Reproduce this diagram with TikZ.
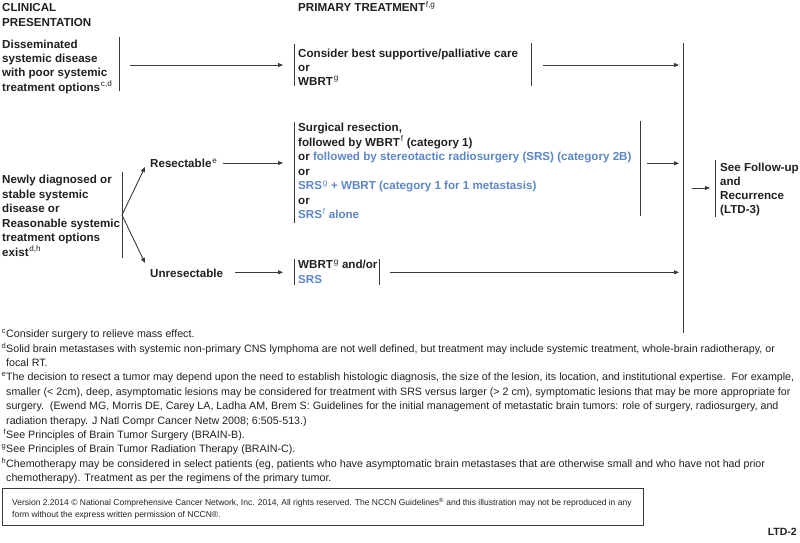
\documentclass[tikz,border=0pt]{standalone}
\usepackage{fontspec}
\setmainfont{Liberation Sans}
\usetikzlibrary{arrows.meta}
\definecolor{ink}{HTML}{231F20}
\definecolor{nccnblue}{HTML}{5B86C8}
\definecolor{rulec}{HTML}{3A3A3A}
\newcommand\myst{\rule{0pt}{11pt}}
\newcommand\fst{\rule{0pt}{11pt}}
\newcommand\sps[1]{\kern0.8pt\textsuperscript{\mdseries #1}}
\begin{document}
\begin{tikzpicture}[x=1pt,y=-1pt]
\tikzset{
  txt/.style={anchor=north west, inner sep=0pt, align=left, text=ink,
    font=\fontsize{11.6}{14.4}\selectfont\bfseries},
  fn/.style={anchor=north west, inner sep=0pt, align=left, text=ink,
    font=\fontsize{10.7}{14.4}\selectfont},
  barline/.style={draw=rulec, line width=0.9pt},
  arr/.style={draw=rulec, line width=0.9pt, -{Triangle[length=5pt,width=4pt]}},
}
\useasboundingbox (0,0) rectangle (800,542);

% headers
\node[txt] (hdrL) at (2,0.5) {\myst CLINICAL\\PRESENTATION};
\node[txt] (hdrR) at (298,0.5) {\myst PRIMARY TREATMENT\sps{f,g}};

% disseminated row
\node[txt, font=\fontsize{11.6}{14.2}\selectfont\bfseries] (dis) at (2,37.3) {\myst Disseminated\\systemic disease\\with poor systemic\\treatment options\sps{c,d}};
\coordinate (disT) at (119,37); \coordinate (disB) at (119,91);
\draw[barline] (disT) -- (disB);
\coordinate (disM) at (119,65);

\node[txt, font=\fontsize{11.6}{13.9}\selectfont\bfseries] (cons) at (298,46.3) {\myst Consider best supportive/palliative care\\or\\WBRT\sps{g}};
\coordinate (consLT) at (294,44); \coordinate (consLB) at (294,86);
\draw[barline] (consLT) -- (consLB);
\coordinate (consLM) at (294,65);
\coordinate (consRT) at (531,43); \coordinate (consRB) at (531,86);
\draw[barline] (consRT) -- (consRB);
\coordinate (consRM) at (531,65);

% big collecting line
\coordinate (bigT) at (683,43); \coordinate (bigB) at (683,333);
\draw[barline] (bigT) -- (bigB);
\coordinate (big1) at (683,65);
\coordinate (big2) at (683,163.3);
\coordinate (big3) at (683,272.3);
\coordinate (big4) at (683,188);

\draw[arr] ([xshift=11pt]disM) -- ([xshift=-11pt]consLM);
\draw[arr] ([xshift=12pt]consRM) -- ([xshift=-4pt]big1);

% newly diagnosed
\node[txt, font=\fontsize{11.6}{14.5}\selectfont\bfseries] (new) at (2,172.5) {\myst Newly diagnosed or\\stable systemic\\disease or\\Reasonable systemic\\treatment options\\exist\sps{d,h}};
\coordinate (newT) at (122,172); \coordinate (newB) at (122,258);
\draw[barline] (newT) -- (newB);
\coordinate (br) at (122,215);

\node[txt] (res) at (150,156.5) {\myst Resectable\sps{e}};
\node[txt] (unres) at (150,266) {\myst Unresectable};
\coordinate (resin) at (145,167);
\coordinate (unresin) at (145,263);
\draw[arr] (br) -- (resin);
\draw[arr] (br) -- (unresin);

% resectable treatment
\node[txt, font=\fontsize{11.6}{14.5}\selectfont\bfseries] (surg) at (298,120.3) {\myst Surgical resection,\\followed by WBRT\sps{f} (category 1)\\or {\color{nccnblue}followed by stereotactic radiosurgery (SRS) (category 2B)}\\or\\{\color{nccnblue}SRS\sps{g} + WBRT (category 1 for 1 metastasis)}\\or\\{\color{nccnblue}SRS\sps{f} alone}};
\coordinate (surgLT) at (294,121.7); \coordinate (surgLB) at (294,222.7);
\draw[barline] (surgLT) -- (surgLB);
\coordinate (surgLM) at (294,163);
\coordinate (surgRT) at (640,120.7); \coordinate (surgRB) at (640,216);
\draw[barline] (surgRT) -- (surgRB);
\coordinate (surgRM) at (640,163.3);

\coordinate (resout) at (223,163);
\draw[arr] (resout) -- ([xshift=-11pt]surgLM);
\draw[arr] ([xshift=7pt]surgRM) -- ([xshift=-4pt]big2);

% unresectable treatment
\node[txt] (wbrt) at (298,257.5) {\myst WBRT\sps{g} and/or\\{\color{nccnblue}SRS}};
\coordinate (wbLT) at (294,259.3); \coordinate (wbLB) at (294,285);
\draw[barline] (wbLT) -- (wbLB);
\coordinate (wbLM) at (294,272.3);
\coordinate (wbRT) at (379.3,259.3); \coordinate (wbRB) at (379.3,285);
\draw[barline] (wbRT) -- (wbRB);
\coordinate (wbRM) at (379.3,272.3);

\coordinate (unresout) at (235,272.3);
\draw[arr] (unresout) -- ([xshift=-11pt]wbLM);
\draw[arr] ([xshift=11pt]wbRM) -- ([xshift=-4pt]big3);

% follow-up
\node[txt, font=\fontsize{11.6}{14}\selectfont\bfseries] (fol) at (720,160) {\myst See Follow-up\\and\\Recurrence\\(LTD-3)};
\coordinate (folT) at (715,160); \coordinate (folB) at (715,217);
\draw[barline] (folT) -- (folB);
\coordinate (folM) at (715,188);
\draw[arr] ([xshift=9pt]big4) -- ([xshift=-5pt]folM);

% footnotes
\node[fn] (notes) at (6,326.5) {\fst\llap{\textsuperscript{c}}Consider surgery to relieve mass effect.\\
\llap{\textsuperscript{d}}Solid brain metastases with systemic non-primary CNS lymphoma are not well defined, but treatment may include systemic treatment, whole-brain radiotherapy, or\\
focal RT.\\
\llap{\textsuperscript{e}}The decision to resect a tumor may depend upon the need to establish histologic diagnosis, the size of the lesion, its location, and institutional expertise.\ \ For example,\\
smaller (< 2cm), deep, asymptomatic lesions may be considered for treatment with SRS versus larger (> 2 cm), symptomatic lesions that may be more appropriate for\\
surgery.\ \ (Ewend MG, Morris DE, Carey LA, Ladha AM, Brem S: Guidelines for the initial management of metastatic brain tumors: role of surgery, radiosurgery, and\\
radiation therapy. J Natl Compr Cancer Netw 2008; 6:505-513.)\\
\llap{\textsuperscript{f}}See Principles of Brain Tumor Surgery (BRAIN-B).\\
\llap{\textsuperscript{g}}See Principles of Brain Tumor Radiation Therapy (BRAIN-C).\\
\llap{\textsuperscript{h}}Chemotherapy may be considered in select patients (eg, patients who have asymptomatic brain metastases that are otherwise small and who have not had prior\\
chemotherapy). Treatment as per the regimens of the primary tumor.};

% copyright box
\node[draw=rulec, line width=0.9pt, anchor=north west, minimum width=641pt, minimum height=37pt, inner sep=0pt] (copybox) at (2,488) {};
\node[anchor=north west, inner sep=0pt, align=left, text=ink, font=\fontsize{8.5}{12.5}\selectfont] (copytext) at (12,497) {\rule{0pt}{8pt}Version 2.2014 \textcopyright{} National Comprehensive Cancer Network, Inc. 2014, All rights reserved. The NCCN Guidelines\textsuperscript{\textregistered} and this illustration may not be reproduced in any\\form without the express written permission of NCCN\textregistered.};

\node[anchor=base east, inner sep=0pt, text=ink, font=\fontsize{10.5}{12}\selectfont\bfseries] (page) at (797,535) {LTD-2};
\end{tikzpicture}
\end{document}
